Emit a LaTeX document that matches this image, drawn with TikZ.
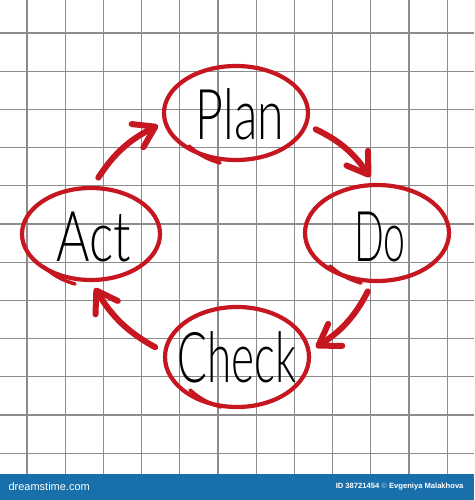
\documentclass[tikz,border=0pt]{standalone}
\usepackage{fontspec}
\usepackage{graphicx}
\usetikzlibrary{shapes.geometric,arrows.meta}
\newfontfamily\stockfont{Liberation Sans}
\IfFontExistsTF{Lato Light}
	{\newfontfamily\handfont{Lato Light}}
	{\IfFontExistsTF{Poppins Light}
		{\newfontfamily\handfont{Poppins Light}}
		{\newcommand{\handfont}{\sffamily}}}
\definecolor{penred}{RGB}{198,22,32}
\definecolor{gridgray}{RGB}{140,140,140}
\definecolor{stockblue}{RGB}{25,111,170}
\newcommand{\hand}[2]{\scalebox{#1}[1]{#2}}

\begin{document}
\begin{tikzpicture}[%
  x=1pt,y=1pt,
  gridline/.style={draw=gridgray,line width=1.3pt},
  ring/.style={ellipse,draw=penred,line width=4.2pt,inner sep=0pt,outer sep=8pt},
  word/.style={anchor=base,inner sep=0pt,font=\handfont\fontsize{70}{70}\selectfont},
  tail/.style={draw=penred,line width=3.5pt,line cap=round},
  flow/.style={draw=penred,line width=6pt,line cap=round,shorten <=3pt,
    -{Straight Barb[round,length=20pt,width=26pt]}}]
\useasboundingbox (0,0) rectangle (474,500);
\fill[white] (0,0) rectangle (474,500);
\foreach \k in {0,...,11} {
	\draw[gridline] ({27+38.2*\k},26) -- ({27+38.2*\k},500);
	\draw[gridline] (0,{467-38.2*\k}) -- (474,{467-38.2*\k});
}
\fill[stockblue] (0,0) rectangle (474,26);

\node[ring,minimum width=144pt,minimum height=94pt] (plan) at (236,387) {};
\node[ring,minimum width=144pt,minimum height=96pt] (do) at (377,267) {};
\node[ring,minimum width=144pt,minimum height=100pt] (check) at (237,143) {};
\node[ring,minimum width=138pt,minimum height=92pt] (act) at (91,266) {};

\node[word] (plantext) at ([shift={(4,-27)}]plan.center) {\hand{0.69}{Plan}};
\node[word] (dotext) at ([shift={(3,-29)}]do.center) {\hand{0.56}{Do}};
\node[word] (checktext) at ([shift={(0,-26)}]check.center) {\hand{0.63}{Check}};
\node[word] (acttext) at ([shift={(3,-28)}]act.center) {\hand{0.73}{Act}};

\foreach \n in {plan,do,check,act}
	\draw[tail] ([shift={(-47,-33)}]\n.center) to[bend right=12] ([shift={(-16,-50)}]\n.center);

\draw[flow] (plan.-11) to[bend left=15] (do.97);
\draw[flow] (do.-98) to[bend left=15] (check.7);
\draw[flow] (check.174) to[bend left=15] (act.-86);
\draw[flow] (act.84) to[bend left=15] (plan.189);

\node[anchor=west,text=white,font=\stockfont\fontsize{11}{11}\selectfont] (brand) at (5,13) {dreamstime.com};
\node[anchor=east,text=white,font=\stockfont\bfseries\fontsize{7.6}{9}\selectfont] (credit) at (467,13)
	{ID 38721454 {\color{white!55!stockblue}©} Evgeniya Malakhova};
\end{tikzpicture}
\end{document}
